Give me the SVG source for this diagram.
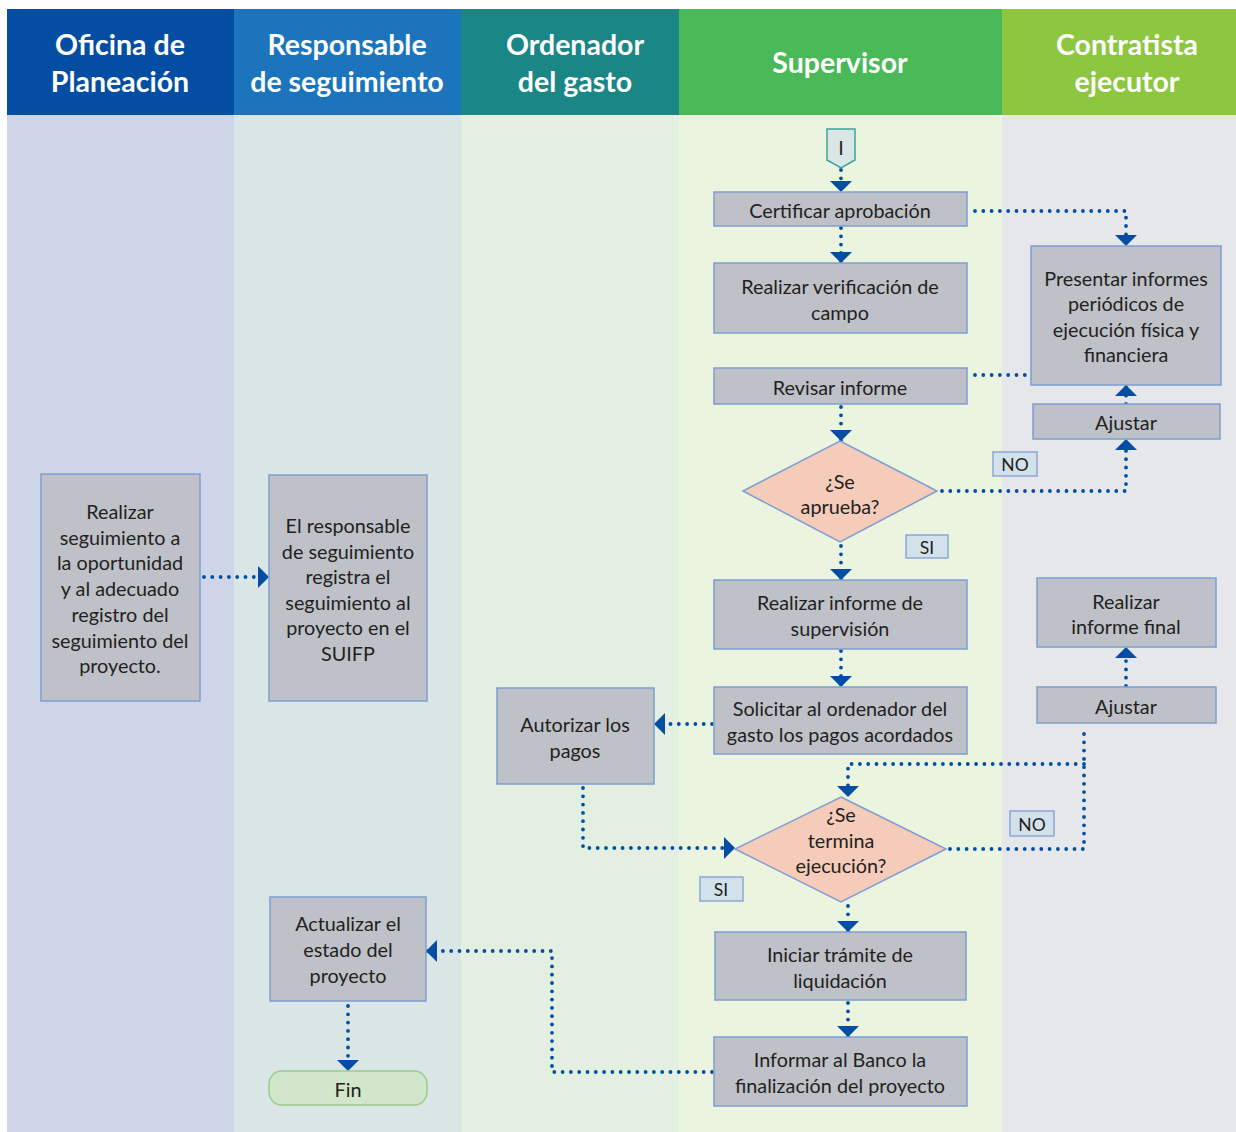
<svg xmlns="http://www.w3.org/2000/svg" width="1236" height="1132" viewBox="0 0 1236 1132">
<style>
.hd{font-family:Lato,"Open Sans",sans-serif;font-weight:bold;font-size:28.5px;fill:#ffffff;text-anchor:middle;dominant-baseline:central}
.t{font-family:Lato,"Open Sans",sans-serif;font-size:19.8px;fill:#231F20;text-anchor:middle;dominant-baseline:central}
.lb{font-family:Lato,"Open Sans",sans-serif;font-size:17.5px;fill:#231F20;text-anchor:middle;dominant-baseline:central}
.box{fill:#BEC1C8;stroke:#7D9ED2;stroke-width:1.5}
.dia{fill:#F5CBBA;stroke:#7D9ED2;stroke-width:1.5}
.tag{fill:#D3E1EA;stroke:#8BA8D4;stroke-width:1.5}
.c{fill:none;stroke:#034EA2;stroke-width:3.8;stroke-linecap:round;stroke-dasharray:0 8.3}
</style>
<defs>
<marker id="ah" markerUnits="userSpaceOnUse" markerWidth="14" markerHeight="24" viewBox="0 -12 12 24" refX="11" refY="0" orient="auto">
<path d="M0,-11 L11,0 L0,11 Z" fill="#034EA2"/>
</marker>
</defs>
<rect x="0" y="0" width="1236" height="1132" fill="#ffffff"/>
<g id="lanes">
<rect x="7" y="115" width="227" height="1017" fill="#CFD5E8"/>
<rect x="234" y="115" width="227" height="1017" fill="#DAE5E5"/>
<rect x="461" y="115" width="218" height="1017" fill="#E3F0E1"/>
<rect x="679" y="115" width="323" height="1017" fill="#EAF4DF"/>
<rect x="1002" y="115" width="234" height="1017" fill="#E6E7EA"/>
<rect x="7" y="9" width="227" height="106" fill="#034EA2"/>
<rect x="234" y="9" width="227" height="106" fill="#1C75BC"/>
<rect x="461" y="9" width="218" height="106" fill="#1A8686"/>
<rect x="679" y="9" width="323" height="106" fill="#4AB957"/>
<rect x="1002" y="9" width="234" height="106" fill="#8DC63F"/>
<text class="hd" x="120" y="44">Oficina de</text>
<text class="hd" x="120" y="81">Planeación</text>
<text class="hd" x="347" y="44">Responsable</text>
<text class="hd" x="347" y="81">de seguimiento</text>
<text class="hd" x="575" y="44">Ordenador</text>
<text class="hd" x="575" y="81">del gasto</text>
<text class="hd" x="840" y="62">Supervisor</text>
<text class="hd" x="1127" y="44">Contratista</text>
<text class="hd" x="1127" y="81">ejecutor</text>
</g>
<g id="connectors">
<path class="c" d="M841,170 L841,192" marker-end="url(#ah)"/>
<path class="c" d="M841,228 L841,263" marker-end="url(#ah)"/>
<path class="c" d="M975,211 L1126,211 L1126,246" marker-end="url(#ah)"/>
<path class="c" d="M975,375 L1027,375"/>
<path class="c" d="M841,407 L841,441" marker-end="url(#ah)"/>
<path class="c" d="M942,491 L1126,491 L1126,439" marker-end="url(#ah)"/>
<path class="c" d="M1126,404 L1126,385" marker-end="url(#ah)"/>
<path class="c" d="M841,546 L841,580" marker-end="url(#ah)"/>
<path class="c" d="M841,651 L841,687" marker-end="url(#ah)"/>
<path class="c" d="M712,724 L654,724" marker-end="url(#ah)"/>
<path class="c" d="M583,788 L583,848 L735,848" marker-end="url(#ah)"/>
<path class="c" d="M950,849 L1084,849 L1084,726"/>
<path class="c" d="M1084,764 L848,764 L848,797" marker-end="url(#ah)"/>
<path class="c" d="M1126,686 L1126,647" marker-end="url(#ah)"/>
<path class="c" d="M848,906 L848,932" marker-end="url(#ah)"/>
<path class="c" d="M848,1003 L848,1037" marker-end="url(#ah)"/>
<path class="c" d="M712,1072 L552,1072 L552,951 L426,951" marker-end="url(#ah)"/>
<path class="c" d="M348,1006 L348,1071" marker-end="url(#ah)"/>
<path class="c" d="M204,577 L269,577" marker-end="url(#ah)"/>
</g>
<g id="n-start">
<path d="M827,129 L855,129 L855,160 L841,168 L827,160 Z" fill="#DAE5E6" stroke="#3FA39B" stroke-width="1.5"/>
<text class="t" x="841" y="147">I</text>
</g>
<g id="n-certificar">
<rect class="box" x="714" y="192" width="253" height="34"/>
<text class="t" x="840" y="210">Certificar aprobación</text>
</g>
<g id="n-verificacion">
<rect class="box" x="714" y="263" width="253" height="70"/>
<text class="t" x="840" y="286">Realizar verificación de</text>
<text class="t" x="840" y="312">campo</text>
</g>
<g id="n-revisar">
<rect class="box" x="714" y="368" width="253" height="36"/>
<text class="t" x="840" y="387">Revisar informe</text>
</g>
<g id="n-aprueba">
<path class="dia" d="M840,441 L937,491 L840,542 L743,491 Z"/>
<text class="t" x="840" y="481">¿Se</text>
<text class="t" x="840" y="506">aprueba?</text>
</g>
<g id="l-si1">
<rect class="tag" x="906" y="535" width="42" height="23"/>
<text class="lb" x="927" y="547">SI</text>
</g>
<g id="l-no1">
<rect class="tag" x="993" y="452" width="44" height="24"/>
<text class="lb" x="1015" y="464">NO</text>
</g>
<g id="n-presentar">
<rect class="box" x="1031" y="246" width="190" height="139"/>
<text class="t" x="1126" y="278">Presentar informes</text>
<text class="t" x="1126" y="303">periódicos de</text>
<text class="t" x="1126" y="329">ejecución física y</text>
<text class="t" x="1126" y="354">financiera</text>
</g>
<g id="n-ajustar1">
<rect class="box" x="1033" y="404" width="187" height="35"/>
<text class="t" x="1126" y="422">Ajustar</text>
</g>
<g id="n-supervision">
<rect class="box" x="714" y="580" width="253" height="69"/>
<text class="t" x="840" y="602">Realizar informe de</text>
<text class="t" x="840" y="628">supervisión</text>
</g>
<g id="n-solicitar">
<rect class="box" x="714" y="687" width="253" height="67"/>
<text class="t" x="840" y="708">Solicitar al ordenador del</text>
<text class="t" x="840" y="734">gasto los pagos acordados</text>
</g>
<g id="n-autorizar">
<rect class="box" x="497" y="688" width="157" height="96"/>
<text class="t" x="575" y="724">Autorizar los</text>
<text class="t" x="575" y="750">pagos</text>
</g>
<g id="n-termina">
<path class="dia" d="M841,797 L946,849 L841,902 L735,849 Z"/>
<text class="t" x="841" y="814">¿Se</text>
<text class="t" x="841" y="840">termina</text>
<text class="t" x="841" y="865">ejecución?</text>
</g>
<g id="l-no2">
<rect class="tag" x="1010" y="811" width="44" height="25"/>
<text class="lb" x="1032" y="824">NO</text>
</g>
<g id="l-si2">
<rect class="tag" x="700" y="877" width="43" height="24"/>
<text class="lb" x="721" y="889">SI</text>
</g>
<g id="n-final">
<rect class="box" x="1037" y="578" width="179" height="69"/>
<text class="t" x="1126" y="601">Realizar</text>
<text class="t" x="1126" y="626">informe final</text>
</g>
<g id="n-ajustar2">
<rect class="box" x="1037" y="687" width="179" height="36"/>
<text class="t" x="1126" y="706">Ajustar</text>
</g>
<g id="n-liquidacion">
<rect class="box" x="715" y="932" width="251" height="68"/>
<text class="t" x="840" y="954">Iniciar trámite de</text>
<text class="t" x="840" y="980">liquidación</text>
</g>
<g id="n-informar">
<rect class="box" x="714" y="1037" width="253" height="69"/>
<text class="t" x="840" y="1059">Informar al Banco la</text>
<text class="t" x="840" y="1085">finalización del proyecto</text>
</g>
<g id="n-seguimiento">
<rect class="box" x="41" y="474" width="159" height="227"/>
<text class="t" x="120" y="511">Realizar</text>
<text class="t" x="120" y="537">seguimiento a</text>
<text class="t" x="120" y="562">la oportunidad</text>
<text class="t" x="120" y="588">y al adecuado</text>
<text class="t" x="120" y="614">registro del</text>
<text class="t" x="120" y="640">seguimiento del</text>
<text class="t" x="120" y="665">proyecto.</text>
</g>
<g id="n-responsable">
<rect class="box" x="269" y="475" width="158" height="226"/>
<text class="t" x="348" y="525">El responsable</text>
<text class="t" x="348" y="551">de seguimiento</text>
<text class="t" x="348" y="576">registra el</text>
<text class="t" x="348" y="602">seguimiento al</text>
<text class="t" x="348" y="627">proyecto en el</text>
<text class="t" x="348" y="653">SUIFP</text>
</g>
<g id="n-actualizar">
<rect class="box" x="270" y="897" width="156" height="104"/>
<text class="t" x="348" y="923">Actualizar el</text>
<text class="t" x="348" y="949">estado del</text>
<text class="t" x="348" y="975">proyecto</text>
</g>
<g id="n-fin">
<rect x="269" y="1071" width="158" height="34" rx="13" fill="#D2E6CB" stroke="#9ACD8A" stroke-width="1.5"/>
<text class="t" x="348" y="1089">Fin</text>
</g>
</svg>
